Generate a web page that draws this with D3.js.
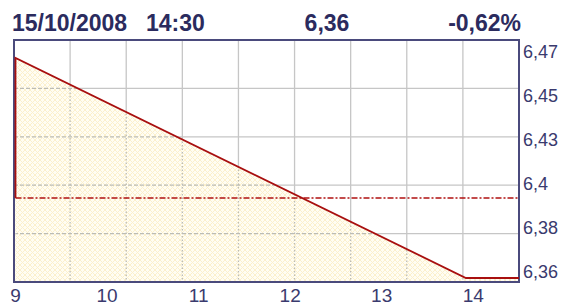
<!DOCTYPE html>
<html lang="en">
<head>
<meta charset="utf-8">
<title>Intraday chart</title>
<script src="https://cdn.jsdelivr.net/npm/d3@7"></script>
<style>
  body { margin: 0; background: #fff; }
  text { font-family: "Liberation Sans", Arial, sans-serif; }
</style>
</head>
<body>
<script>
// header texts
var titleDate = "15/10/2008";
var titleTime = "14:30";
var titleLast = "6,36";
var titleChange = "-0,62%";

// price series (hour of day, price)
var times = [9, 9, 13.92, 14.5];
var prices = [6.40, 6.47, 6.36, 6.36];
var prevClose = 6.40;

// axis ticks
var xTicks = [9, 10, 11, 12, 13, 14];
var xTickLabels = ["9", "10", "11", "12", "13", "14"];
var yTicks = [6.47, 6.448, 6.426, 6.404, 6.382, 6.36];
var yTickLabels = ["6,47", "6,45", "6,43", "6,4", "6,38", "6,36"];

var w = 566, h = 307;
var pLeft = 14, pRight = 519, pTop = 40, pBottom = 282;

var svg = d3.select("body").append("svg")
    .attr("width", w)
    .attr("height", h);

var x = d3.scaleLinear().domain([9, 14.5]).range([pLeft + 1.5, pRight]);
var y = d3.scaleLinear().domain([6.36, 6.47]).range([278, 58]);

// grid divisions (fixed, not tied to data)
var gx = d3.scaleLinear().domain([0, 9]).range([pLeft, pRight]);
var gy = d3.scaleLinear().domain([0, 5]).range([pTop, pBottom]);

var defs = svg.append("defs");
var pat = defs.append("pattern")
    .attr("id", "hatch")
    .attr("patternUnits", "userSpaceOnUse")
    .attr("width", 5).attr("height", 5);
pat.append("rect").attr("width", 5).attr("height", 5).attr("fill", "#fffdf3");
pat.append("path").attr("d", "M0,0L5,5M5,0L0,5")
    .attr("stroke", "#fcf0cc").attr("stroke-width", 1);

var area = d3.area()
    .x(function(d, i) { return x(times[i]); })
    .y0(pBottom)
    .y1(function(d) { return y(d); });
var line = d3.line()
    .x(function(d, i) { return x(times[i]); })
    .y(function(d) { return y(d); });

defs.append("clipPath").attr("id", "areaClip")
    .append("path").attr("d", area(prices));

// solid grid
var grid = svg.append("g").attr("stroke", "#c6c6c6").attr("stroke-width", 1.3);
d3.range(1, 9).forEach(function(i) {
    grid.append("line").attr("x1", gx(i)).attr("x2", gx(i)).attr("y1", pTop).attr("y2", pBottom);
});
d3.range(1, 5).forEach(function(i) {
    grid.append("line").attr("x1", pLeft).attr("x2", pRight).attr("y1", gy(i)).attr("y2", gy(i));
});

// filled area
svg.append("path").attr("d", area(prices)).attr("fill", "url(#hatch)");
svg.append("rect").attr("x", pLeft).attr("y", y(prices[1]))
    .attr("width", x(9) - pLeft).attr("height", pBottom - y(prices[1]))
    .attr("fill", "url(#hatch)");

// grid seen through the fill
var grid2 = svg.append("g").attr("clip-path", "url(#areaClip)")
    .attr("stroke", "#bcbcb4").attr("stroke-width", 1.3);
d3.range(1, 9).forEach(function(i) {
    grid2.append("line").attr("x1", gx(i)).attr("x2", gx(i)).attr("y1", pTop).attr("y2", pBottom)
        .attr("stroke-dasharray", "1.5,2");
});
d3.range(1, 5).forEach(function(i) {
    grid2.append("line").attr("x1", pLeft).attr("x2", pRight).attr("y1", gy(i)).attr("y2", gy(i))
        .attr("stroke-dasharray", "4,2");
});

// frame
svg.append("rect")
    .attr("x", pLeft).attr("y", pTop)
    .attr("width", pRight - pLeft).attr("height", pBottom - pTop)
    .attr("fill", "none").attr("stroke", "#4a4a7c").attr("stroke-width", 2);

// previous close
svg.append("line")
    .attr("x1", x(9)).attr("x2", pRight - 1)
    .attr("y1", y(prevClose)).attr("y2", y(prevClose))
    .attr("stroke", "#b01010").attr("stroke-width", 1.5)
    .attr("stroke-dasharray", "6,2,2,2");

// price line
svg.append("path").attr("d", line(prices))
    .attr("fill", "none").attr("stroke", "#a80f0f").attr("stroke-width", 1.8);

// y labels
svg.selectAll(".ylab").data(yTicks).enter().append("text")
    .attr("class", "ylab")
    .attr("x", pRight + 4)
    .attr("y", function(d) { return y(d); })
    .attr("fill", "#3a3a6e")
    .style("font-size", "18px")
    .text(function(d, i) { return yTickLabels[i]; });

// x labels
svg.selectAll(".xlab").data(xTicks).enter().append("text")
    .attr("class", "xlab")
    .attr("x", function(d) { return x(d); })
    .attr("y", 302)
    .attr("text-anchor", "middle")
    .attr("fill", "#3a3a6e")
    .style("font-size", "19px")
    .text(function(d, i) { return xTickLabels[i]; });

// header
var hdr = svg.append("g").attr("fill", "#2b2b5e")
    .style("font-size", "23px").style("font-weight", "bold");
hdr.append("text").attr("x", 12).attr("y", 31).text(titleDate);
hdr.append("text").attr("x", 146).attr("y", 31).text(titleTime);
hdr.append("text").attr("x", 327).attr("y", 31).attr("text-anchor", "middle").text(titleLast);
hdr.append("text").attr("x", 521).attr("y", 31).attr("text-anchor", "end").text(titleChange);
</script>
</body>
</html>
